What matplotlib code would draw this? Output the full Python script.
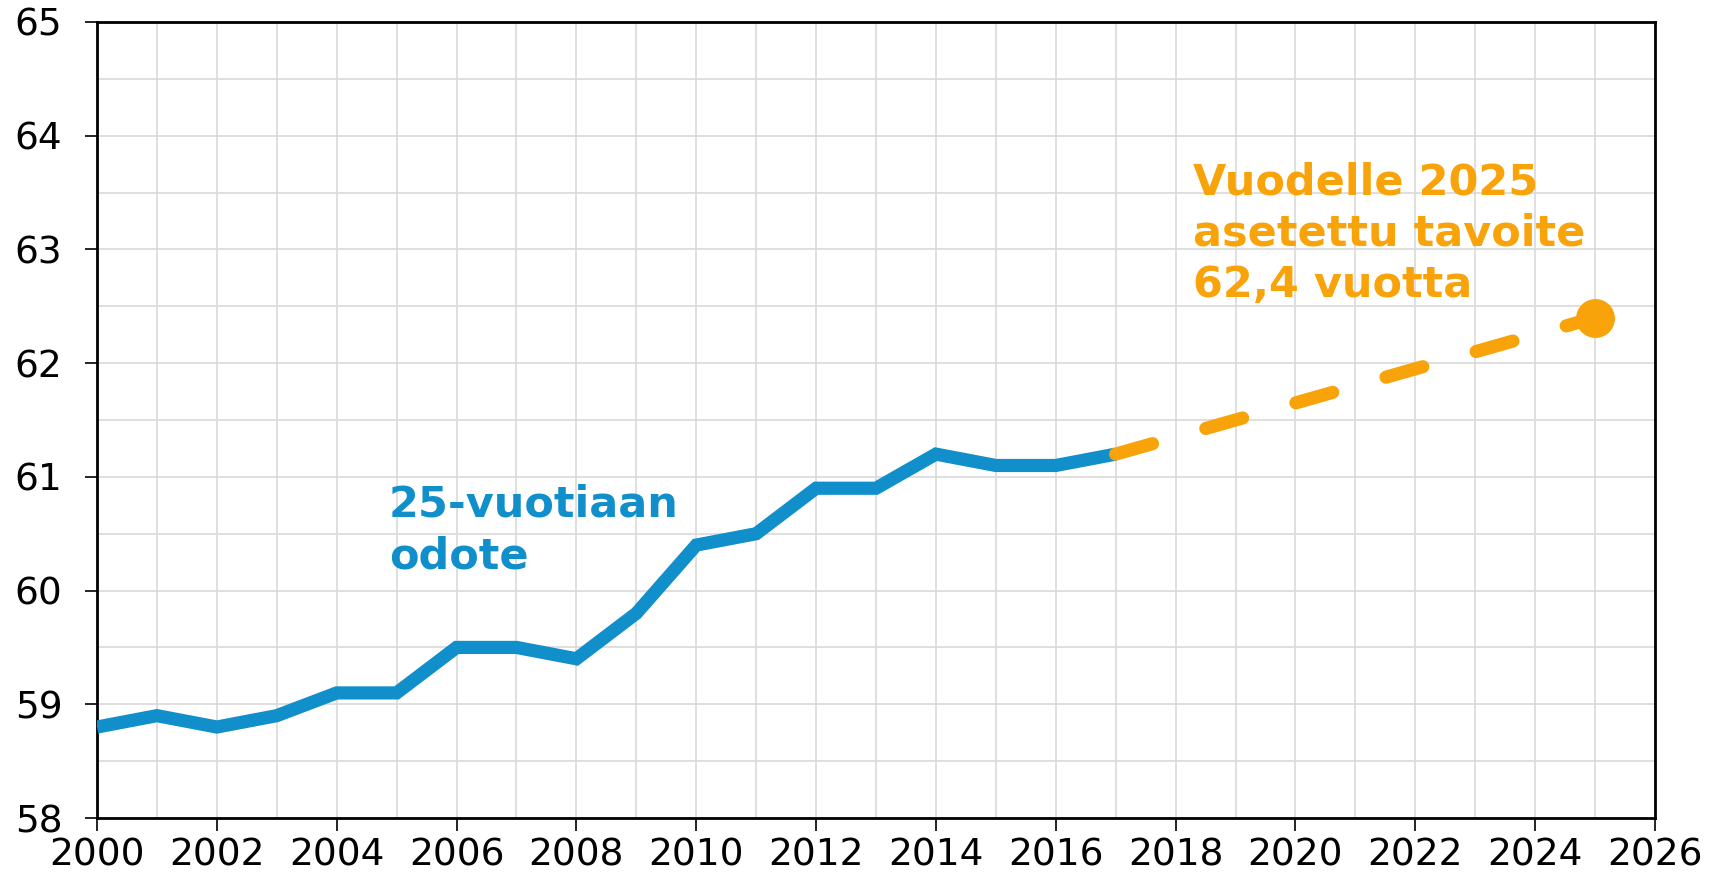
import matplotlib
matplotlib.use("Agg")
import matplotlib.pyplot as plt
from matplotlib.ticker import MultipleLocator

years = [2000, 2001, 2002, 2003, 2004, 2005, 2006, 2007, 2008, 2009,
         2010, 2011, 2012, 2013, 2014, 2015, 2016, 2017]
expectancy = [58.8, 58.9, 58.8, 58.9, 59.1, 59.1, 59.5, 59.5, 59.4, 59.8,
              60.4, 60.5, 60.9, 60.9, 61.2, 61.1, 61.1, 61.2]
target_years = [2017, 2025]
target_values = [61.2, 62.4]
label_series = "25-vuotiaan\nodote"
label_target = "Vuodelle 2025\nasetettu tavoite\n62,4 vuotta"

BLUE = "#108fcb"
ORANGE = "#f9a30a"

plt.rcParams['font.family'] = ['DejaVu Sans']

fig = plt.figure(figsize=(17.17, 8.73), dpi=100)
ax = fig.add_axes([0.0565, 0.063, 0.9074, 0.9118])

ax.plot(years, expectancy, color=BLUE, lw=9.5, solid_capstyle='butt',
        solid_joinstyle='miter', zorder=3)
ax.plot(target_years, target_values, color=ORANGE, lw=9.5, dash_capstyle='round',
        dashes=(2.9, 4.2), zorder=4)
ax.plot(target_years[-1], target_values[-1], 'o', color=ORANGE, ms=27, zorder=5)

ax.set_xlim(2000, 2026)
ax.set_ylim(58, 65)
ax.xaxis.set_major_locator(MultipleLocator(2))
ax.xaxis.set_minor_locator(MultipleLocator(1))
ax.yaxis.set_major_locator(MultipleLocator(1))
ax.yaxis.set_minor_locator(MultipleLocator(0.5))
ax.grid(which='both', color='#d9d9d9', lw=1.2, zorder=0)
ax.set_axisbelow(True)

for s in ax.spines.values():
    s.set_linewidth(2)
    s.set_color('black')

ax.tick_params(axis='both', which='major', direction='out', length=9, width=1.2,
               labelsize=27, color='black')
ax.tick_params(axis='y', which='major', pad=16)
ax.tick_params(axis='x', which='major', pad=5)
ax.tick_params(which='minor', length=0)

ax.text(2004.87, 60.198, label_series, color=BLUE, fontsize=31, fontweight='bold',
        ha='left', va='baseline', linespacing=1.29)
ax.text(2018.29, 62.58, label_target, color=ORANGE, fontsize=31, fontweight='bold',
        ha='left', va='baseline', linespacing=1.29)

fig.savefig("out.png", dpi=100)
